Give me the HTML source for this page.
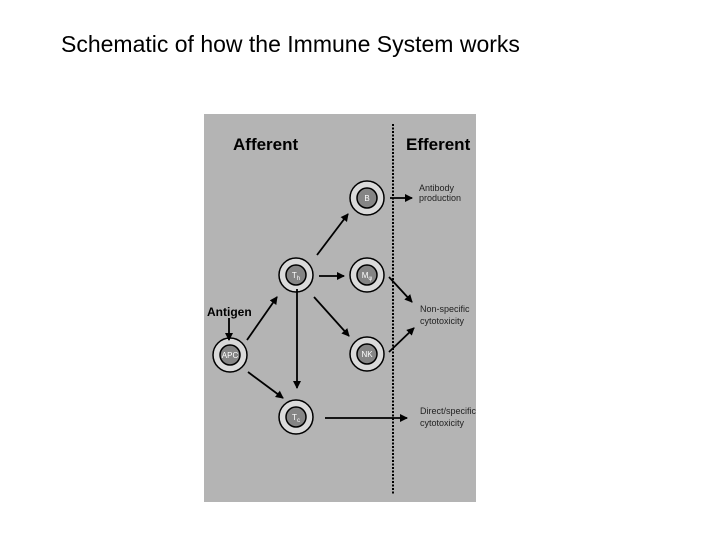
<!DOCTYPE html>
<html><head><meta charset="utf-8"><style>
body{margin:0;width:720px;height:540px;background:#fff;overflow:hidden;font-family:"Liberation Sans",sans-serif}
.t{position:absolute;left:61px;top:31px;font-size:23px;color:#000}
</style></head><body>
<div class="t">Schematic of how the Immune System works</div>
<svg width="720" height="540" style="position:absolute;left:0;top:0">
<defs><marker id="a" markerWidth="8" markerHeight="8" refX="7" refY="4" orient="auto" markerUnits="userSpaceOnUse"><path d="M0,0 L8,4 L0,8z" fill="#000"/></marker></defs>
<rect x="204" y="114" width="272" height="388" fill="#b4b4b4"/>
<line x1="393" y1="124" x2="393" y2="494" stroke="#000" stroke-width="2" stroke-dasharray="2,1.5"/>
<g font-family="Liberation Sans" font-weight="bold" font-size="17" fill="#000">
<text x="233" y="150">Afferent</text><text x="406" y="150">Efferent</text>
<text x="207" y="316" font-size="12">Antigen</text></g>
<g font-family="Liberation Sans" font-size="9" fill="#222">
<text x="419" y="191">Antibody</text><text x="419" y="201">production</text>
<text x="420" y="312">Non-specific</text><text x="420" y="324">cytotoxicity</text>
<text x="420" y="414">Direct/specific</text><text x="420" y="426">cytotoxicity</text></g>
<g stroke="#000" stroke-width="1.5">
<g fill="#dadada"><circle cx="367" cy="198" r="17"/><circle cx="296" cy="275" r="17"/><circle cx="367" cy="275" r="17"/><circle cx="367" cy="354" r="17"/><circle cx="230" cy="355" r="17"/><circle cx="296" cy="417" r="17"/></g>
<g fill="#858585"><circle cx="367" cy="198" r="10"/><circle cx="296" cy="275" r="10"/><circle cx="367" cy="275" r="10"/><circle cx="367" cy="354" r="10"/><circle cx="230" cy="355" r="10"/><circle cx="296" cy="417" r="10"/></g>
</g>
<g font-family="Liberation Sans" font-size="8" fill="#fff" text-anchor="middle">
<text x="367" y="201">B</text><text x="296" y="278">T<tspan font-size="6" dy="2">h</tspan></text><text x="367" y="278">M<tspan font-size="6" dy="2">φ</tspan></text><text x="367" y="357">NK</text><text x="230" y="358">APC</text><text x="296" y="420">T<tspan font-size="6" dy="2">c</tspan></text></g>
<g stroke="#000" stroke-width="1.8" marker-end="url(#a)">
<line x1="390" y1="198" x2="412" y2="198"/>
<line x1="317" y1="255" x2="348" y2="214"/>
<line x1="319" y1="276" x2="344" y2="276"/>
<line x1="314" y1="297" x2="349" y2="336"/>
<line x1="297" y1="289" x2="297" y2="388"/>
<line x1="247" y1="340" x2="277" y2="297"/>
<line x1="229" y1="318" x2="229" y2="340"/>
<line x1="248" y1="372" x2="283" y2="398"/>
<line x1="389" y1="277" x2="412" y2="302"/>
<line x1="389" y1="352" x2="414" y2="328"/>
<line x1="325" y1="418" x2="407" y2="418"/>
</g>
</svg>
</body></html>
